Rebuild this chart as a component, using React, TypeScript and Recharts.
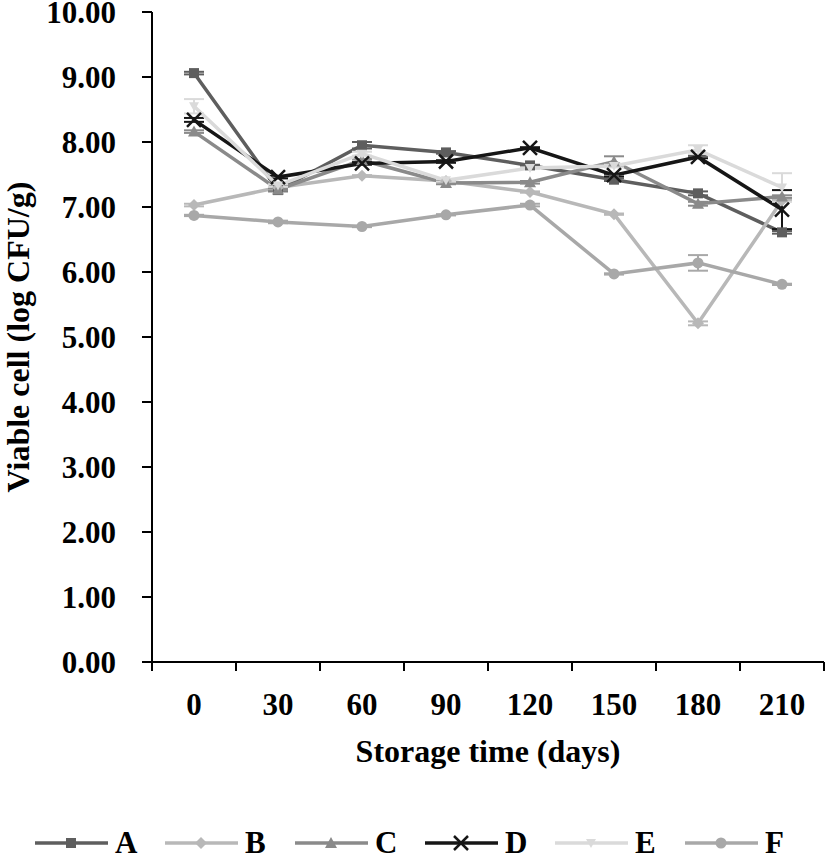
import { CartesianGrid, ErrorBar, Legend, Line, LineChart, XAxis, YAxis } from "recharts";

const DAYS = ["0", "30", "60", "90", "120", "150", "180", "210"];

const A = [9.06, 7.26, 7.95, 7.84, 7.64, 7.42, 7.21, 6.61];
const B = [7.03, 7.3, 7.48, 7.4, 7.23, 6.89, 5.21, 7.1];
const C = [8.16, 7.27, 7.72, 7.37, 7.38, 7.7, 7.05, 7.16];
const D = [8.34, 7.46, 7.67, 7.7, 7.91, 7.49, 7.77, 6.96];
const E = [8.55, 7.33, 7.82, 7.41, 7.6, 7.63, 7.88, 7.3];
const F = [6.87, 6.77, 6.7, 6.88, 7.03, 5.97, 6.14, 5.81];

const A_ERR = [0.02, 0.02, 0.05, 0.02, 0.01, 0.02, 0.03, 0.02];
const B_ERR = [0.02, 0.01, 0.01, 0.01, 0.01, 0.01, 0.03, 0.01];
const C_ERR = [0.02, 0.02, 0.02, 0.02, 0.02, 0.08, 0.03, 0.02];
const D_ERR = [0.03, 0.02, 0.02, 0.02, 0.01, 0.02, 0.02, 0.3];
const E_ERR = [0.11, 0.02, 0.03, 0.02, 0.01, 0.02, 0.07, 0.22];
const F_ERR = [0.01, 0.02, 0.01, 0.01, 0.02, 0.01, 0.12, 0.01];

const Y_TICKS = [0, 1, 2, 3, 4, 5, 6, 7, 8, 9, 10];

const SERIES = [
  { key: "A", color: "#5e5e5e", shape: "square", values: A, err: A_ERR },
  { key: "B", color: "#b8b8b8", shape: "diamond", values: B, err: B_ERR },
  { key: "C", color: "#8a8a8a", shape: "triangle", values: C, err: C_ERR },
  { key: "D", color: "#161616", shape: "cross", values: D, err: D_ERR },
  { key: "E", color: "#dadada", shape: "tri-down", values: E, err: E_ERR },
  { key: "F", color: "#a8a8a8", shape: "circle", values: F, err: F_ERR },
];

const data = DAYS.map((day, i) => {
  const row: Record<string, string | number> = { day };
  SERIES.forEach((s) => {
    row[s.key] = s.values[i];
    row[s.key + "_err"] = s.err[i];
  });
  return row;
});

const FONT = "'Liberation Serif', 'Times New Roman', serif";

function Marker({ cx, cy, shape, color }: { cx: number; cy: number; shape: string; color: string }) {
  if (cx == null || cy == null) return null;
  switch (shape) {
    case "square":
      return <rect x={cx - 5} y={cy - 5} width={10} height={10} fill={color} />;
    case "diamond":
      return <polygon points={`${cx},${cy - 6} ${cx + 6},${cy} ${cx},${cy + 6} ${cx - 6},${cy}`} fill={color} />;
    case "triangle":
      return <polygon points={`${cx},${cy - 6} ${cx + 6},${cy + 5} ${cx - 6},${cy + 5}`} fill={color} />;
    case "tri-down":
      return <polygon points={`${cx - 5},${cy - 4} ${cx + 5},${cy - 4} ${cx},${cy + 5}`} fill={color} />;
    case "cross":
      return (
        <g stroke={color} strokeWidth={2.5}>
          <line x1={cx - 7} y1={cy - 7} x2={cx + 7} y2={cy + 7} />
          <line x1={cx - 7} y1={cy + 7} x2={cx + 7} y2={cy - 7} />
        </g>
      );
    default:
      return <circle cx={cx} cy={cy} r={5.5} fill={color} />;
  }
}

function DayTick(props: any) {
  const { x, y, payload, index, visibleTicksCount } = props;
  const half = 42;
  return (
    <g>
      <line x1={x - half} y1={y} x2={x - half} y2={y + 9} stroke="#000" strokeWidth={2} />
      {index === visibleTicksCount - 1 && (
        <line x1={x + half} y1={y} x2={x + half} y2={y + 9} stroke="#000" strokeWidth={2} />
      )}
      <text x={x} y={y + 53} textAnchor="middle" fontFamily={FONT} fontWeight="bold" fontSize={31} fill="#000">
        {payload.value}
      </text>
    </g>
  );
}

function LegendContent() {
  return (
    <div style={{ display: "flex", paddingLeft: 35, height: 40, alignItems: "center" }}>
      {SERIES.map((s) => (
        <div key={s.key} style={{ display: "flex", alignItems: "center", width: 130 }}>
          <svg width={73} height={20}>
            <line x1={0} y1={10} x2={73} y2={10} stroke={s.color} strokeWidth={3.5} />
            <Marker cx={36} cy={10} shape={s.shape} color={s.color} />
          </svg>
          <span style={{ fontFamily: FONT, fontWeight: "bold", fontSize: 31, marginLeft: 7, color: "#000" }}>
            {s.key}
          </span>
        </div>
      ))}
    </div>
  );
}

export default function App() {
  return (
    <div style={{ position: "absolute", left: 0, top: 0, background: "#fff" }}>
      <LineChart width={827} height={863} data={data} margin={{ top: 12, right: 3, bottom: 0, left: 0 }}>
        <CartesianGrid stroke="none" />
        <XAxis
          dataKey="day"
          padding={{ left: 42, right: 42 }}
          height={161}
          tickSize={0}
          tickMargin={0}
          tickLine={false}
          axisLine={{ stroke: "#000", strokeWidth: 2 }}
          tick={<DayTick />}
          interval={0}
          label={{
            content: ({ viewBox }: any) => (
              <text
                x={viewBox.x + viewBox.width / 2}
                y={viewBox.y + 100}
                textAnchor="middle"
                fontFamily={FONT}
                fontWeight="bold"
                fontSize={32}
                fill="#000"
              >
                Storage time (days)
              </text>
            ),
          }}
        />
        <YAxis
          width={152}
          domain={[0, 10]}
          ticks={Y_TICKS}
          interval={0}
          tickSize={10}
          tickMargin={26}
          tickFormatter={(v: number) => v.toFixed(2)}
          axisLine={{ stroke: "#000", strokeWidth: 2 }}
          tickLine={{ stroke: "#000", strokeWidth: 2 }}
          tick={{ fontFamily: FONT, fontWeight: "bold", fontSize: 31, fill: "#000" }}
          label={{
            content: ({ viewBox }: any) => {
              const cx = viewBox.x + 18;
              const cy = viewBox.y + viewBox.height / 2;
              return (
                <text
                  x={cx}
                  y={cy}
                  transform={`rotate(-90 ${cx} ${cy})`}
                  textAnchor="middle"
                  dominantBaseline="central"
                  fontFamily={FONT}
                  fontWeight="bold"
                  fontSize={32}
                  fill="#000"
                >
                  Viable cell (log CFU/g)
                </text>
              );
            },
          }}
        />
        <Legend verticalAlign="bottom" content={<LegendContent />} wrapperStyle={{ height: 40 }} />
        {SERIES.map((s) => (
          <Line
            key={s.key}
            dataKey={s.key}
            stroke={s.color}
            strokeWidth={3.5}
            isAnimationActive={false}
            dot={(p: any) => <Marker key={`${s.key}-${p.index}`} cx={p.cx} cy={p.cy} shape={s.shape} color={s.color} />}
            activeDot={false}
          >
            <ErrorBar dataKey={`${s.key}_err`} direction="y" width={10} stroke={s.color} strokeWidth={2} />
          </Line>
        ))}
      </LineChart>
    </div>
  );
}
